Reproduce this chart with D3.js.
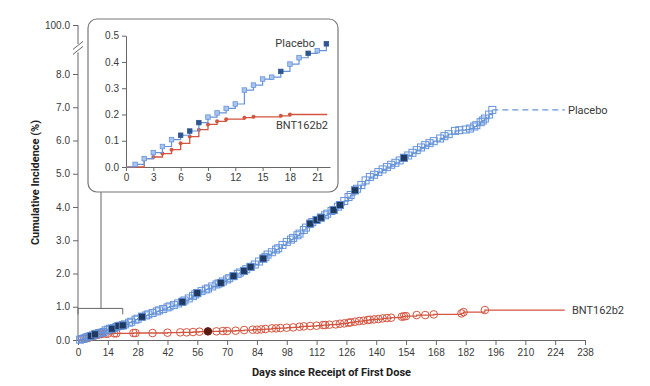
<!DOCTYPE html>
<html>
<head>
<meta charset="utf-8">
<script src="https://cdn.jsdelivr.net/npm/d3@7"></script>
<style>
body { margin: 0; background: #fff; }
svg { font-family: Roboto, "Noto Sans", sans-serif; }
</style>
</head>
<body>
<div id="chart"></div>
<script>
// tick labels
const xTicks = [0, 14, 28, 42, 56, 70, 84, 98, 112, 126, 140, 154, 168, 182, 196, 210, 224, 238];
const yTicks = [0, 1, 2, 3, 4, 5, 6, 7, 8];
const yTopTick = [100];
const insetXTicks = [0, 3, 6, 9, 12, 15, 18, 21];
const insetYTicks = [0, 0.1, 0.2, 0.3, 0.4, 0.5];

// [day, cumulative incidence %]
const placebo = [[0,0],[1,0.01],[2,0.03],[3,0.05],[4,0.08],[5,0.10],[6,0.12],[7,0.14],[8,0.17],[9,0.19],[10,0.21],[11,0.22],[12,0.24],[13,0.29],[14,0.31],[15,0.34],[16,0.34],[17,0.36],[18,0.39],[19,0.42],[20,0.43],[21,0.44],[22,0.47],
  [24,0.52],[25,0.55],[27,0.61],[28,0.64],[30,0.70],[32,0.74],[33,0.77],[35,0.81],[37,0.86],[38,0.89],[40,0.93],[42,0.98],[43,1.01],[45,1.05],[47,1.10],[49,1.15],[50,1.19],[52,1.25],[54,1.32],[55,1.37],[56,1.41],[58,1.47],[60,1.52],[61,1.55],[63,1.61],[65,1.67],[66,1.70],[68,1.76],[70,1.82],[71,1.86],[73,1.92],[75,1.99],[76,2.03],[78,2.08],[79,2.13],[81,2.20],[83,2.27],[85,2.36],[87,2.45],[88,2.50],[89,2.57],[91,2.64],[93,2.72],[94,2.76],[96,2.86],[98,2.95],[100,3.02],[101,3.07],[103,3.15],[104,3.20],[106,3.31],[107,3.38],[109,3.50],[110,3.55],[112,3.61],[114,3.68],[116,3.75],[117,3.80],[119,3.88],[120,3.91],[122,4.01],[123,4.06],[125,4.18],[127,4.30],[128,4.36],[130,4.50],[131,4.55],[133,4.66],[135,4.80],[137,4.90],[139,4.97],[141,5.05],[143,5.13],[145,5.20],[147,5.27],[149,5.33],[151,5.40],[153,5.48],[155,5.55],[157,5.63],[159,5.71],[161,5.79],[163,5.86],[165,5.92],[167,5.98],[170,6.06],[172,6.13],[174,6.19],[177,6.29],[179,6.31],[182,6.33],[184,6.36],[186,6.42],[187,6.46],[189,6.55],[190,6.60],[191,6.66],[193,6.78],[194.5,6.92]];
const placeboSevere = [[6,0.12],[8,0.17],[16,0.34],[19,0.42],[21,0.44],[30,0.70],[49,1.15],[56,1.41],[67,1.72],[73,1.92],[78,2.08],[81,2.20],[87,2.45],[109,3.50],[112,3.61],[114,3.68],[120,3.91],[123,4.06],[130,4.50],[153,5.48]];

const bnt = [[0,0],[2,0.03],[3,0.04],[4,0.05],[5,0.07],[6,0.09],[7,0.12],[8,0.14],[9,0.16],[10,0.17],[11,0.18],[13,0.19],[14,0.19],[17,0.20],[18,0.20],[26,0.21],[27,0.21],[35,0.21],[42,0.22],[48,0.23],[51,0.23],[54,0.24],[57,0.25],[61,0.26],[65,0.26],[68,0.27],[70,0.27],[74,0.28],[78,0.30],[82,0.31],[84,0.31],[86,0.32],[88,0.33],[91,0.35],[93,0.35],[95,0.36],[98,0.37],[101,0.38],[104,0.40],[106,0.41],[109,0.42],[112,0.43],[115,0.45],[116,0.45],[118,0.46],[121,0.47],[123,0.49],[125,0.50],[127,0.52],[128,0.53],[130,0.55],[132,0.57],[134,0.58],[136,0.60],[137,0.61],[139,0.62],[141,0.63],[143,0.65],[145,0.66],[147,0.67],[152,0.70],[153,0.71],[154,0.72],[159,0.75],[163,0.75],[167,0.77],[180,0.80],[181,0.84],[191,0.90]];
const bntSevere = [[61,0.26]];
const followUpEnd = 228.5;

// inset, first 22 days
const placeboInset = [[0,0],[1,0.010],[2,0.032],[3,0.055],[4,0.078],[5,0.104],[6,0.121],[7,0.137],[8,0.169],[9,0.190],[10,0.206],[11,0.223],[12,0.240],[13,0.293],[14,0.312],[15,0.335],[16,0.342],[17,0.364],[18,0.392],[19,0.416],[20,0.433],[21,0.443],[22,0.469]];
const placeboInsetSevere = [6, 7, 8, 17, 20, 22];
const bntInset = [[0,0],[2,0.032],[3,0.038],[4,0.051],[5,0.066],[6,0.090],[7,0.116],[8,0.142],[9,0.162],[10,0.174],[11,0.182],[13,0.188],[14,0.191],[17,0.195],[18,0.200]];
const insetEnd = 22.1;

const blue = "#6593da", navy = "#20395e", red = "#d4553f", axisCol = "#666", textCol = "#3a3a3a";

const width = 650, height = 386;
const svg = d3.select("#chart").append("svg")
    .attr("width", width)
    .attr("height", height);

const x = d3.scaleLinear().domain([0, 238]).range([78, 585]);
const y = d3.scaleLinear().domain([0, 8]).range([340, 74]);
const yTop = d3.scaleLinear().domain([99, 100]).range([44, 25]);

function styleAxis(g) {
    g.selectAll("line").attr("stroke", axisCol);
    g.selectAll("path").attr("stroke", axisCol);
    g.selectAll("text").attr("fill", textCol).style("font-size", "10px");
}

// x axis
svg.append("g")
    .attr("transform", `translate(0,${y(0)})`)
    .call(d3.axisBottom(x).tickValues(xTicks).tickSize(5).tickSizeOuter(0).tickPadding(4))
    .call(styleAxis);

// y axis (broken)
const yAx = svg.append("g")
    .attr("transform", `translate(${x(0)},0)`)
    .call(d3.axisLeft(y).tickValues(yTicks).tickFormat(d3.format(".1f")).tickSize(5).tickPadding(3))
    .call(styleAxis);
yAx.select(".domain").remove();
const yAxTop = svg.append("g")
    .attr("transform", `translate(${x(0)},0)`)
    .call(d3.axisLeft(yTop).tickValues(yTopTick).tickFormat(d3.format(".1f")).tickSize(5).tickPadding(3))
    .call(styleAxis);
yAxTop.select(".domain").remove();

svg.append("line")
    .attr("x1", x(0)).attr("x2", x(0))
    .attr("y1", y(0)).attr("y2", y(8.65))
    .attr("stroke", axisCol);
svg.append("line")
    .attr("x1", x(0)).attr("x2", x(0))
    .attr("y1", yTop(99)).attr("y2", yTop(100))
    .attr("stroke", axisCol);
// break marks
[0, 5].forEach(off => {
    svg.append("line")
        .attr("x1", x(0) - 5).attr("y1", y(8.65) + 2 - off)
        .attr("x2", x(0) + 5).attr("y2", y(8.65) - 6 - off)
        .attr("stroke", axisCol);
});

// axis titles
svg.append("text")
    .attr("x", (x(0) + x(238)) / 2)
    .attr("y", 376)
    .attr("text-anchor", "middle")
    .attr("fill", "#222")
    .style("font-size", "11px")
    .style("font-weight", "bold")
    .text("Days since Receipt of First Dose");

svg.append("text")
    .attr("transform", `translate(39,${(y(0) + yTop(100)) / 2}) rotate(-90)`)
    .attr("text-anchor", "middle")
    .attr("fill", "#222")
    .style("font-size", "11px")
    .style("font-weight", "bold")
    .text("Cumulative Incidence (%)");

// main curves
const stepLine = d3.line().x(d => x(d[0])).y(d => y(d[1])).curve(d3.curveStepAfter);

svg.append("path")
    .datum(bnt.concat([[followUpEnd, bnt[bnt.length - 1][1]]]))
    .attr("fill", "none")
    .attr("stroke", red)
    .attr("stroke-width", 1.3)
    .attr("d", stepLine);

svg.append("g").selectAll("circle")
    .data(bnt.slice(1))
    .enter().append("circle")
    .attr("cx", d => x(d[0]))
    .attr("cy", d => y(d[1]))
    .attr("r", 3.8)
    .attr("fill", "none")
    .attr("stroke", red)
    .attr("stroke-width", 1);

svg.append("g").selectAll("circle")
    .data(bntSevere)
    .enter().append("circle")
    .attr("cx", d => x(d[0]))
    .attr("cy", d => y(d[1]))
    .attr("r", 3.6)
    .attr("fill", "#5a1c12")
    .attr("stroke", "#5a1c12");

const lastP = placebo[placebo.length - 1];
svg.append("path")
    .datum([lastP, [followUpEnd, lastP[1]]])
    .attr("fill", "none")
    .attr("stroke", blue)
    .attr("stroke-width", 1.3)
    .attr("stroke-dasharray", "6,4")
    .attr("d", d3.line().x(d => x(d[0])).y(d => y(d[1])));

svg.append("path")
    .datum(placebo)
    .attr("fill", "none")
    .attr("stroke", blue)
    .attr("stroke-width", 1.3)
    .attr("d", stepLine);

const sq = 7;
svg.append("g").selectAll("rect")
    .data(placebo.slice(1))
    .enter().append("rect")
    .attr("x", d => x(d[0]) - sq / 2)
    .attr("y", d => y(d[1]) - sq / 2)
    .attr("width", sq).attr("height", sq)
    .attr("fill", "none")
    .attr("stroke", blue)
    .attr("stroke-width", 1);

svg.append("g").selectAll("rect")
    .data(placeboSevere)
    .enter().append("rect")
    .attr("x", d => x(d[0]) - sq / 2)
    .attr("y", d => y(d[1]) - sq / 2)
    .attr("width", sq).attr("height", sq)
    .attr("fill", navy)
    .attr("stroke", blue)
    .attr("stroke-width", 0.8);

// series labels
svg.append("text")
    .attr("x", 568).attr("y", y(lastP[1]))
    .attr("dy", "0.35em")
    .attr("fill", textCol)
    .style("font-size", "11px")
    .text("Placebo");
svg.append("text")
    .attr("x", 572).attr("y", y(bnt[bnt.length - 1][1]))
    .attr("dy", "0.35em")
    .attr("fill", textCol)
    .style("font-size", "11px")
    .text("BNT162b2");

// bracket + connector to inset
const bracketY = y(0.95);
svg.append("path")
    .attr("d", `M${x(0)},${bracketY + 6}V${bracketY}H${x(21)}V${bracketY + 6}`)
    .attr("fill", "none")
    .attr("stroke", axisCol);
svg.append("line")
    .attr("x1", 101).attr("x2", 101)
    .attr("y1", 192).attr("y2", bracketY)
    .attr("stroke", axisCol);

// inset
svg.append("rect")
    .attr("x", 88).attr("y", 19)
    .attr("width", 250).attr("height", 173)
    .attr("rx", 9)
    .attr("fill", "#fff")
    .attr("stroke", "#777")
    .attr("stroke-width", 1.2);

const ix = d3.scaleLinear().domain([0, 22.4]).range([126, 330]);
const iy = d3.scaleLinear().domain([0, 0.5]).range([167, 35.7]);

svg.append("g")
    .attr("transform", `translate(0,${iy(0)})`)
    .call(d3.axisBottom(ix).tickValues(insetXTicks).tickSize(4).tickSizeOuter(0).tickPadding(3))
    .call(styleAxis);
svg.append("g")
    .attr("transform", `translate(${ix(0)},0)`)
    .call(d3.axisLeft(iy).tickValues(insetYTicks).tickFormat(d3.format(".1f")).tickSize(4).tickSizeOuter(0).tickPadding(3))
    .call(styleAxis);

const iStep = d3.line().x(d => ix(d[0])).y(d => iy(d[1])).curve(d3.curveStepAfter);

svg.append("path")
    .datum(bntInset.concat([[insetEnd, bntInset[bntInset.length - 1][1]]]))
    .attr("fill", "none")
    .attr("stroke", red)
    .attr("stroke-width", 1.3)
    .attr("d", iStep);
svg.append("g").selectAll("circle")
    .data(bntInset.slice(2))
    .enter().append("circle")
    .attr("cx", d => ix(d[0]))
    .attr("cy", d => iy(d[1]))
    .attr("r", 2)
    .attr("fill", red);

svg.append("path")
    .datum(placeboInset)
    .attr("fill", "none")
    .attr("stroke", blue)
    .attr("stroke-width", 1.2)
    .attr("d", iStep);
const isq = 4.5;
svg.append("g").selectAll("rect")
    .data(placeboInset.slice(1))
    .enter().append("rect")
    .attr("x", d => ix(d[0]) - isq / 2)
    .attr("y", d => iy(d[1]) - isq / 2)
    .attr("width", isq).attr("height", isq)
    .attr("fill", d => placeboInsetSevere.includes(d[0]) ? "#2f5590" : "#a9c4ee")
    .attr("stroke", d => placeboInsetSevere.includes(d[0]) ? "#2f5590" : blue)
    .attr("stroke-width", 0.8);

svg.append("text")
    .attr("x", 315).attr("y", 43)
    .attr("dy", "0.35em")
    .attr("text-anchor", "end")
    .attr("fill", textCol)
    .style("font-size", "11px")
    .text("Placebo");
svg.append("text")
    .attr("x", 328).attr("y", 125)
    .attr("dy", "0.35em")
    .attr("text-anchor", "end")
    .attr("fill", textCol)
    .style("font-size", "11px")
    .text("BNT162b2");
</script>
</body>
</html>
